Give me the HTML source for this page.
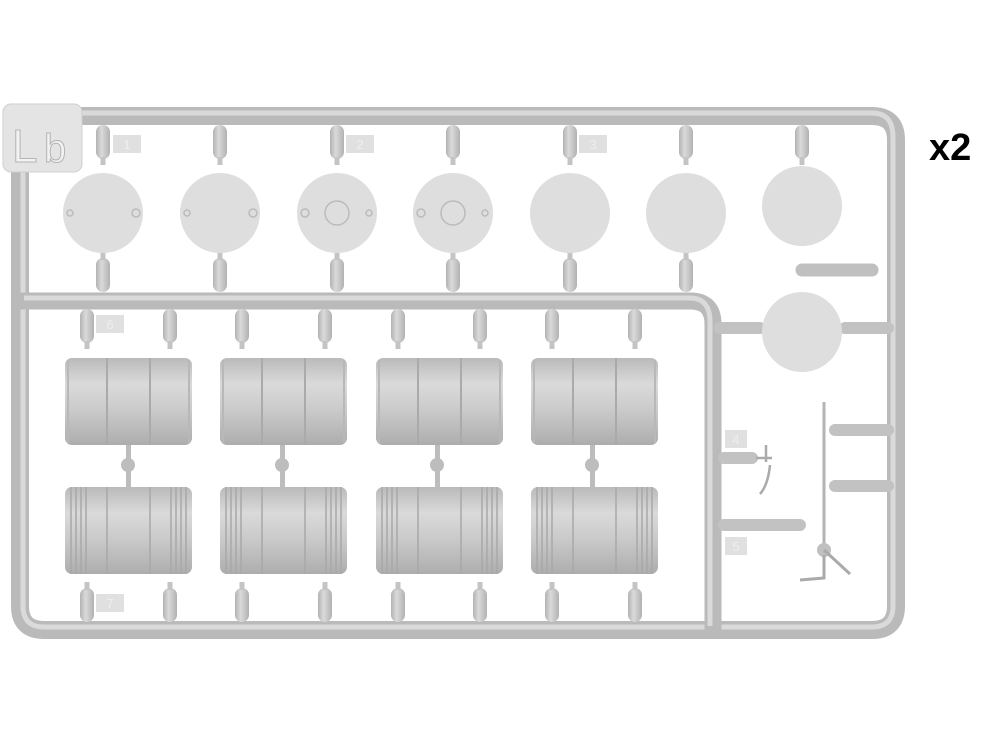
<!DOCTYPE html>
<html><head><style>
html,body{margin:0;padding:0;background:#fff;width:1000px;height:750px;overflow:hidden}
svg{display:block}
</style></head><body>
<svg width="1000" height="750" viewBox="0 0 1000 750" xmlns="http://www.w3.org/2000/svg">
<defs>
<linearGradient id="bv" x1="0" y1="0" x2="0" y2="1">
<stop offset="0" stop-color="#bababa"/><stop offset="0.3" stop-color="#dadada"/><stop offset="0.6" stop-color="#cacaca"/><stop offset="1" stop-color="#adadad"/>
</linearGradient>
<linearGradient id="gh" x1="0" y1="0" x2="1" y2="0">
<stop offset="0" stop-color="#b2b2b2"/><stop offset="0.4" stop-color="#dadada"/><stop offset="1" stop-color="#b2b2b2"/>
</linearGradient>
<g id="barrel">
<rect x="0" y="0" width="127" height="87" rx="7" fill="url(#bv)"/>
<line x1="42" y1="0" x2="42" y2="87" stroke="#aaa" stroke-width="2"/>
<line x1="85" y1="0" x2="85" y2="87" stroke="#aaa" stroke-width="2"/>
<line x1="3" y1="2" x2="3" y2="85" stroke="#b8b8b8" stroke-width="2"/>
<line x1="124" y1="2" x2="124" y2="85" stroke="#b8b8b8" stroke-width="2"/>
</g>
<g id="barrel2">
<rect x="0" y="0" width="127" height="87" rx="7" fill="url(#bv)"/>
<g stroke="#a8a8a8" stroke-width="1.5">
<line x1="6" y1="0" x2="6" y2="87"/><line x1="11" y1="0" x2="11" y2="87"/><line x1="16" y1="0" x2="16" y2="87"/><line x1="21" y1="0" x2="21" y2="87"/>
<line x1="42" y1="0" x2="42" y2="87"/><line x1="85" y1="0" x2="85" y2="87"/>
<line x1="106" y1="0" x2="106" y2="87"/><line x1="111" y1="0" x2="111" y2="87"/><line x1="116" y1="0" x2="116" y2="87"/><line x1="121" y1="0" x2="121" y2="87"/>
</g>
</g>
<g id="gv"><rect x="-7" y="0" width="14" height="34" rx="7" fill="url(#gh)"/><rect x="-2.5" y="32" width="5" height="8" fill="#c4c4c4"/></g>
</defs>

<!-- outer frame -->
<path d="M60,116 H872 Q896,116 896,140 V606 Q896,630 872,630 H44 Q20,630 20,606 V150" fill="none" stroke="#bababa" stroke-width="18"/>
<path d="M60,113 H872 Q893,113 893,137 V606 Q893,627 872,627 H44 Q23,627 23,606 V150" fill="none" stroke="#dadada" stroke-width="5"/>
<!-- middle bar -->
<path d="M20,301 H690 Q713,301 713,324 V630" fill="none" stroke="#bababa" stroke-width="17"/>
<path d="M24,298 H690 Q710,298 710,322 V626" fill="none" stroke="#dadada" stroke-width="5"/>

<!-- Lb tag -->
<rect x="3" y="104" width="79" height="68" rx="8" fill="#e4e4e4" stroke="#cfcfcf"/>
<text x="12" y="162" font-family="Liberation Sans, sans-serif" font-size="46" fill="#f2f2f2" stroke="#b4b4b4" stroke-width="1">L</text>
<text x="44" y="162" font-family="Liberation Sans, sans-serif" font-size="40" fill="#f2f2f2" stroke="#b4b4b4" stroke-width="1">b</text>

<!-- number tags -->
<g font-family="Liberation Sans, sans-serif" font-size="13" fill="#eee" text-anchor="middle">
<rect x="113" y="135" width="28" height="18" fill="#e0e0e0"/><text x="127" y="149">1</text>
<rect x="346" y="135" width="28" height="18" fill="#e0e0e0"/><text x="360" y="149">2</text>
<rect x="579" y="135" width="28" height="18" fill="#e0e0e0"/><text x="593" y="149">3</text>
<rect x="96" y="315" width="28" height="18" fill="#e0e0e0"/><text x="110" y="329">6</text>
<rect x="725" y="430" width="22" height="18" fill="#e0e0e0"/><text x="736" y="444">4</text>
<rect x="725" y="537" width="22" height="18" fill="#e0e0e0"/><text x="736" y="551">5</text>
<rect x="96" y="594" width="28" height="18" fill="#e0e0e0"/><text x="110" y="608">7</text>
</g>

<!-- circles with gates -->
<g>
<use href="#gv" x="103" y="125"/><use href="#gv" x="220" y="125"/><use href="#gv" x="337" y="125"/><use href="#gv" x="453" y="125"/><use href="#gv" x="570" y="125"/><use href="#gv" x="686" y="125"/><use href="#gv" x="802" y="125"/>
<g transform="scale(1,-1)">
<use href="#gv" x="103" y="-292"/><use href="#gv" x="220" y="-292"/><use href="#gv" x="337" y="-292"/><use href="#gv" x="453" y="-292"/><use href="#gv" x="570" y="-292"/><use href="#gv" x="686" y="-292"/>
</g>
</g>
<g fill="#dedede">
<circle cx="103" cy="213" r="40"/><circle cx="220" cy="213" r="40"/><circle cx="337" cy="213" r="40"/><circle cx="453" cy="213" r="40"/><circle cx="570" cy="213" r="40"/><circle cx="686" cy="213" r="40"/><circle cx="802" cy="206" r="40"/>
</g>
<g fill="none" stroke="#bbb" stroke-width="1.5">
<circle cx="70" cy="213" r="3"/><circle cx="136" cy="213" r="4"/>
<circle cx="187" cy="213" r="3"/><circle cx="253" cy="213" r="4"/>
<circle cx="337" cy="213" r="12"/><circle cx="305" cy="213" r="4"/><circle cx="369" cy="213" r="3"/>
<circle cx="453" cy="213" r="12"/><circle cx="421" cy="213" r="4"/><circle cx="485" cy="213" r="3"/>
</g>
<!-- right piece -->
<path d="M802,270 H872" stroke="#c0c0c0" stroke-width="13" stroke-linecap="round"/>
<path d="M720,328 H760" stroke="#c2c2c2" stroke-width="12" stroke-linecap="round"/>
<path d="M845,328 H888" stroke="#c2c2c2" stroke-width="12" stroke-linecap="round"/>
<circle cx="802" cy="332" r="40" fill="#dedede"/>
<path d="M835,430 H888 M835,486 H888" stroke="#c2c2c2" stroke-width="12" stroke-linecap="round"/>
<path d="M724,458 H752 M724,525 H800" stroke="#c2c2c2" stroke-width="12" stroke-linecap="round"/>
<line x1="824" y1="402" x2="824" y2="545" stroke="#b4b4b4" stroke-width="3"/>
<path d="M756,458 L772,458 M766,445 V462 M770,465 Q768,485 760,494" stroke="#aaa" stroke-width="2.5" fill="none"/>
<circle cx="824" cy="550" r="7" fill="#c0c0c0"/>
<path d="M824,550 L850,574 M824,555 V578 L800,580" stroke="#aaa" stroke-width="3" fill="none"/>

<!-- barrel gates -->
<g>
<use href="#gv" x="87" y="309"/><use href="#gv" x="170" y="309"/>
<use href="#gv" x="242" y="309"/><use href="#gv" x="325" y="309"/>
<use href="#gv" x="398" y="309"/><use href="#gv" x="480" y="309"/>
<use href="#gv" x="552" y="309"/><use href="#gv" x="635" y="309"/>
</g>
<g transform="scale(1,-1)">
<use href="#gv" x="87" y="-622"/><use href="#gv" x="170" y="-622"/>
<use href="#gv" x="242" y="-622"/><use href="#gv" x="325" y="-622"/>
<use href="#gv" x="398" y="-622"/><use href="#gv" x="480" y="-622"/>
<use href="#gv" x="552" y="-622"/><use href="#gv" x="635" y="-622"/>
</g>
<!-- barrels -->
<use href="#barrel" x="65" y="358"/><use href="#barrel" x="220" y="358"/><use href="#barrel" x="376" y="358"/><use href="#barrel" x="531" y="358"/>
<use href="#barrel2" x="65" y="487"/><use href="#barrel2" x="220" y="487"/><use href="#barrel2" x="376" y="487"/><use href="#barrel2" x="531" y="487"/>
<!-- connectors -->
<g fill="#bdbdbd">
<rect x="126" y="445" width="5" height="42"/><circle cx="128" cy="465" r="7"/>
<rect x="280" y="445" width="5" height="42"/><circle cx="282" cy="465" r="7"/>
<rect x="435" y="445" width="5" height="42"/><circle cx="437" cy="465" r="7"/>
<rect x="590" y="445" width="5" height="42"/><circle cx="592" cy="465" r="7"/>
</g>

<text x="929" y="160" font-family="Liberation Sans, sans-serif" font-size="38" font-weight="bold" fill="#000">x2</text>
</svg>
</body></html>
